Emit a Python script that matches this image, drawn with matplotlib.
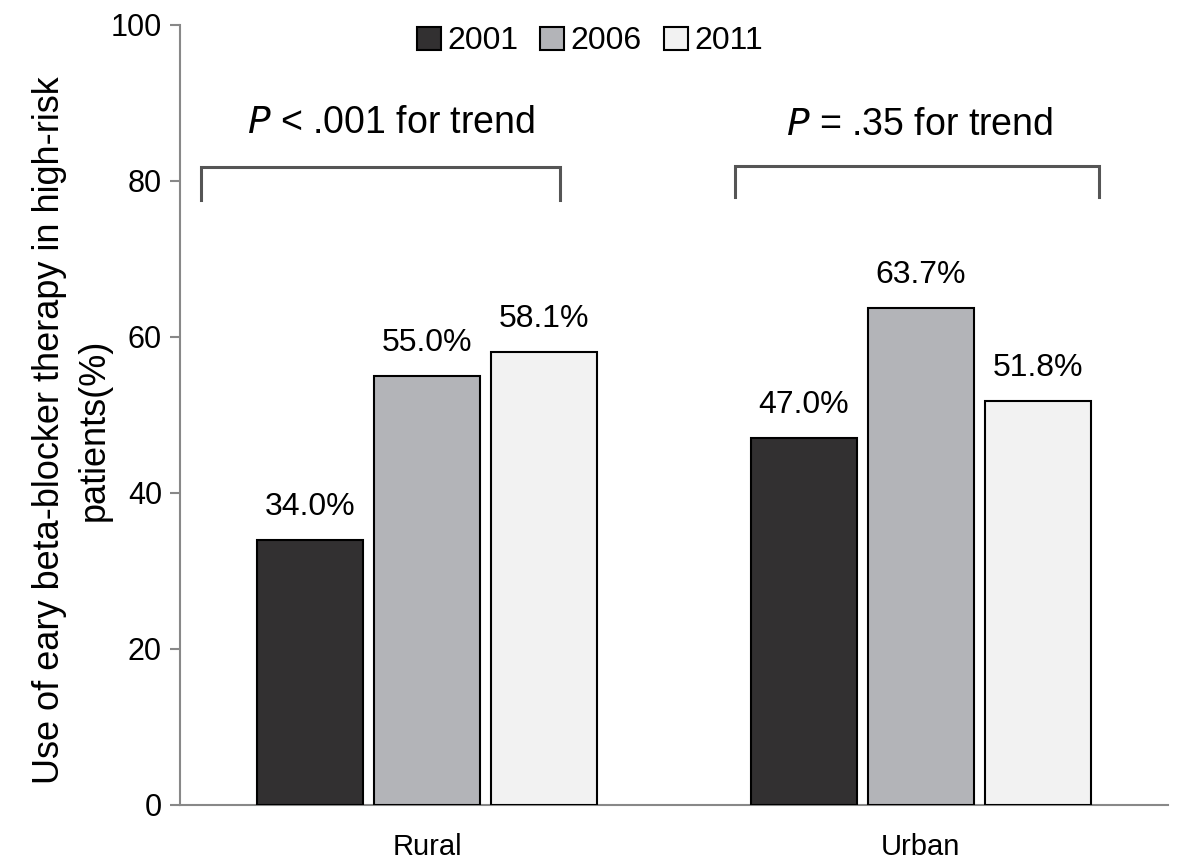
import matplotlib
matplotlib.use("Agg")
import matplotlib.pyplot as plt
import numpy as np

plt.rcParams['font.family'] = ['Liberation Sans', 'DejaVu Sans']

categories = ["Rural", "Urban"]
years = ["2001", "2006", "2011"]
values = {
    "2001": [34.0, 47.0],
    "2006": [55.0, 63.7],
    "2011": [58.1, 51.8],
}
colors = {"2001": "#323031", "2006": "#b3b4b8", "2011": "#f2f2f2"}
p_texts = ["< .001 for trend", "= .35 for trend"]

fig = plt.figure(figsize=(11.81, 8.59), dpi=100)
ax = fig.add_axes([0.1524, 0.0629, 0.8365, 0.9080])

x = np.arange(len(categories))
width = 0.215
step = 0.237
for i, y in enumerate(years):
    pos = x + (i - 1) * step
    ax.bar(pos, values[y], width=width, color=colors[y], edgecolor="black",
           linewidth=1.5, label=y, zorder=3)
    for px, v in zip(pos, values[y]):
        ax.text(px, v + 2.3, f"{v:.1f}%", ha="center", va="bottom", fontsize=23)

ax.set_xlim(-0.5, 1.5)
ax.set_ylim(0, 100)
ax.set_yticks([0, 20, 40, 60, 80, 100])
ax.set_xticks(x)
ax.set_xticklabels(categories, fontsize=21)
ax.tick_params(axis='y', labelsize=22, direction='out', length=7, width=1.5, color='#888888', pad=6)
ax.tick_params(axis='x', length=0, pad=20)
for s in ["top", "right"]:
    ax.spines[s].set_visible(False)
ax.spines["left"].set_color("#888888")
ax.spines["bottom"].set_color("#888888")
ax.spines["left"].set_linewidth(1.5)
ax.spines["bottom"].set_linewidth(1.5)

ax.set_ylabel("Use of eary beta-blocker therapy in high-risk\npatients(%)", fontsize=26,
              linespacing=1.35)
ax.yaxis.set_label_coords(-0.069, 0.481)

# brackets
brackets = [(-0.457, 0.269, 81.8, 77.6), (0.623, 1.36, 81.9, 77.9)]
text_pos = [(-0.073, 86.2), (0.998, 85.9)]
for (x0, x1, ytop, ybot), (tx, ty), pt in zip(brackets, text_pos, p_texts):
    ax.plot([x0, x0, x1, x1], [ybot, ytop, ytop, ybot], color="#555555", lw=2.2,
            clip_on=False, solid_joinstyle='miter')
    ax.text(tx, ty, r"$\it{P}$ " + pt, ha="center", va="baseline", fontsize=27)

leg = ax.legend(loc="upper center", bbox_to_anchor=(0.415, 1.035), ncol=3, frameon=False,
                fontsize=23, handlelength=0.75, handleheight=0.75, handletextpad=0.2,
                columnspacing=0.7)

fig.savefig("out.png", dpi=100)
